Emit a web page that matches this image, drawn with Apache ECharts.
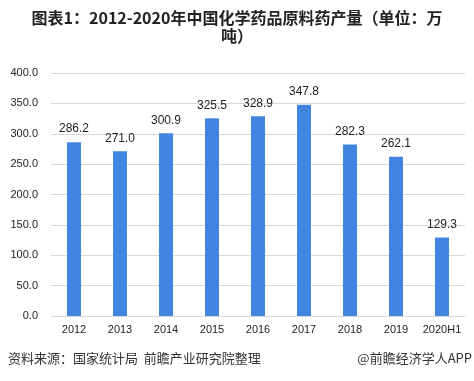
<!DOCTYPE html>
<html><head><meta charset="utf-8">
<script src="https://cdn.jsdelivr.net/npm/echarts@6/dist/echarts.min.js"></script>
<style>html,body{margin:0;padding:0;background:#fff}#c{width:474px;height:381px}</style>
</head><body><div id="c"></div>
<script>
const categories = ['2012','2013','2014','2015','2016','2017','2018','2019','2020H1'];
const values = [286.2, 271.0, 300.9, 325.5, 328.9, 347.8, 282.3, 262.1, 129.3];
const yTicks = [0, 50, 100, 150, 200, 250, 300, 350, 400];

const chart = echarts.init(document.getElementById('c'), null, {renderer:'canvas'});
chart.setOption({
  animation: false,
  backgroundColor: '#fff',
  graphic: [
    {type:'text', x: 237, y: 9, style:{text:'图表1：2012-2020年中国化学药品原料药产量（单位：万\n吨）', align:'center', fontSize: 16, fontWeight:'bold', lineHeight: 18, fill:'#222', fontFamily:'Noto Sans CJK SC'}},
    {type:'text', left: 8, top: 352, style:{text:'资料来源：国家统计局  前瞻产业研究院整理', fontSize: 13, fill:'#333', fontFamily:'Noto Sans CJK SC'}},
    {type:'text', right: 2, top: 352, style:{text:'@前瞻经济学人APP', fontSize: 13, fill:'#333', fontFamily:'Noto Sans CJK SC'}}
  ],
  grid: {left: 51, right: 9, top: 73, height: 243, containLabel: false},
  xAxis: {
    type: 'category', data: categories,
    axisLine: {lineStyle: {color: '#d9d9d9'}},
    axisTick: {show: false},
    axisLabel: {interval: 0, color: '#222', fontSize: 11, margin: 8, fontFamily: 'Liberation Sans'}
  },
  yAxis: {
    type: 'value', min: yTicks[0], max: yTicks[yTicks.length-1], interval: 50,
    axisLine: {show: false}, axisTick: {show: false},
    splitLine: {lineStyle: {color: '#d9d9d9'}},
    axisLabel: {color: '#222', fontSize: 11, margin: 13, fontFamily: 'Liberation Sans', formatter: v => v.toFixed(1)}
  },
  series: [{
    type: 'bar', data: values, barWidth: 14,
    itemStyle: {color: '#4285E0'},
    label: {show: true, position: 'top', distance: 7, color: '#222', fontSize: 12, fontFamily: 'Liberation Sans', formatter: p => p.value.toFixed(1)}
  }]
});
</script></body></html>
